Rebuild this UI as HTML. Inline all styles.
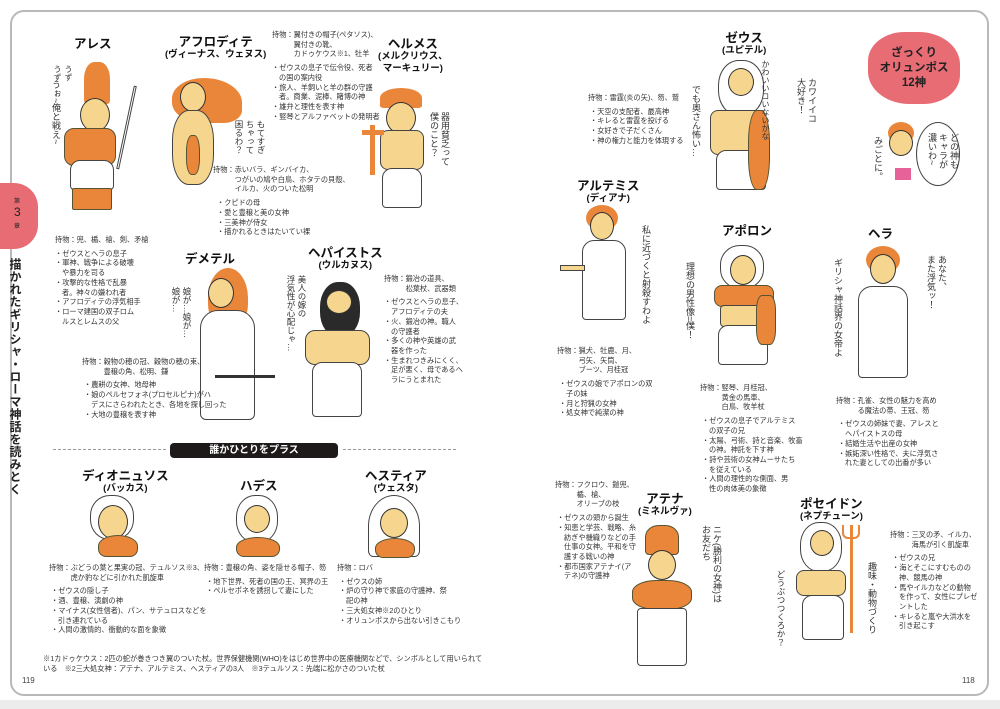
<!DOCTYPE html>
<html><head><meta charset="utf-8">
<style>
*{margin:0;padding:0;box-sizing:border-box}
body{width:1000px;height:709px;background:#ececec;position:relative;overflow:hidden;font-family:"Liberation Sans","Noto Sans CJK JP",sans-serif;color:#222}
#page{position:absolute;left:0;top:0;width:1000px;height:700px;background:#fff}
#frame{position:absolute;left:10px;top:10px;width:979px;height:686px;border:2px solid #b9b9b9;border-radius:14px}
.a{position:absolute}
.t{position:absolute;font-size:7.2px;line-height:9.7px;white-space:nowrap;color:#333}
.t p{padding-left:7px;text-indent:-7px}
.h{position:absolute;font-weight:bold;font-size:12.5px;line-height:13px;text-align:center;white-space:nowrap;color:#111}
.h small{display:block;font-size:9.5px;line-height:12px}
.v{position:absolute;writing-mode:vertical-rl;font-size:9px;line-height:11px;color:#333;white-space:nowrap}
.head{position:absolute;background:#f6d58f;border:1.3px solid #333;border-radius:50%}
.hair{position:absolute;background:#e9863a;border-radius:50%}
.wig{position:absolute;background:#fff;border:1.3px solid #444;border-radius:45%}
.robe{position:absolute;background:#fff;border:1.3px solid #444;border-radius:10px 10px 4px 4px}
.or{position:absolute;background:#e9863a;border:1px solid #553;}
.skin{position:absolute;background:#f6d58f;border:1.2px solid #444}
</style></head><body>
<div id="page"></div>
<div id="frame"></div>

<!-- left tab -->
<div class="a" style="left:0;top:183px;width:38px;height:66px;background:#e86c74;border-radius:0 24px 24px 0"></div>
<div class="a" style="left:14px;top:196px;font-size:6px;color:#222">第</div>
<div class="a" style="left:14px;top:205px;font-size:12px;color:#222">3</div>
<div class="a" style="left:14px;top:221px;font-size:6px;color:#222">章</div>
<div class="v" style="left:8px;top:258px;font-size:12px;line-height:14px;font-weight:bold;letter-spacing:0.5px;color:#222">描かれたギリシャ・ローマ神話を読みとく</div>

<!-- pink cloud -->
<div class="a" style="left:868px;top:32px;width:92px;height:72px;background:#e86c74;border-radius:40% 45% 40% 45%"></div>
<div class="a" style="left:868px;top:46px;width:92px;text-align:center;font-weight:bold;font-size:11.5px;line-height:15px;color:#222">ざっくり<br>オリュンポス<br>12神</div>
<!-- girl -->
<div class="hair" style="left:888px;top:122px;width:26px;height:22px"></div>
<div class="head" style="left:889px;top:130px;width:24px;height:26px"></div>
<div class="a" style="left:895px;top:168px;width:16px;height:12px;background:#e8629a"></div>
<div class="a" style="left:916px;top:122px;width:44px;height:64px;border:1.2px solid #444;border-radius:50%"></div>
<div class="v" style="left:926px;top:133px">どの神も<br>キャラが<br>濃いわ~</div>
<div class="v" style="left:872px;top:136px">みごとに。</div>

<!-- ARES -->
<div class="h" style="left:74px;top:38px">アレス</div>
<div class="hair" style="left:84px;top:62px;width:26px;height:42px;border-radius:40% 40% 10% 10%"></div>
<div class="head" style="left:80px;top:98px;width:30px;height:34px"></div>
<div class="or" style="left:64px;top:128px;width:52px;height:38px;border-radius:10px"></div>
<div class="robe" style="left:70px;top:160px;width:44px;height:30px"></div>
<div class="or" style="left:72px;top:188px;width:40px;height:22px;border-radius:2px"></div>
<div class="a" style="left:125px;top:85px;width:3px;height:85px;background:#fff;border:1px solid #444;transform:rotate(12deg)"></div>
<div class="v" style="left:50px;top:80px">うぉ~俺と戦え~</div>
<div class="v" style="left:52px;top:65px;font-size:8px">うず<br>うず</div>
<div class="t" style="left:55px;top:235px">持物：兜、楯、槍、剣、矛槍
<div style="margin-top:4px"><p>・ゼウスとヘラの息子</p><p>・軍神、戦争による破壊<br>や暴力を司る</p><p>・攻撃的な性格で乱暴<br>者。神々の嫌われ者</p><p>・アフロディテの浮気相手</p><p>・ローマ建国の双子ロム<br>ルスとレムスの父</p></div></div>

<!-- APHRODITE -->
<div class="h" style="left:165px;top:36px">アフロディテ<small>(ヴィーナス、ウェヌス)</small></div>
<div class="hair" style="left:172px;top:78px;width:70px;height:45px;border-radius:50% 60% 30% 50%"></div>
<div class="head" style="left:180px;top:82px;width:26px;height:30px"></div>
<div class="skin" style="left:172px;top:110px;width:42px;height:75px;border-radius:40%"></div>
<div class="or" style="left:186px;top:135px;width:14px;height:40px;border-radius:40%"></div>
<div class="v" style="left:233px;top:120px;font-size:8.5px">もてすぎ<br>ちゃって<br>困るわ？</div>
<div class="t" style="left:213px;top:165px">持物：赤いバラ、ギンバイカ、<br>　　　つがいの鳩や白鳥、ホタテの貝殻、<br>　　　イルカ、火のついた松明
<div style="margin-top:4px;margin-left:4px"><p>・クピドの母</p><p>・愛と豊穣と美の女神</p><p>・三美神が侍女</p><p>・描かれるときはたいてい裸</p></div></div>

<!-- HERMES -->
<div class="t" style="left:272px;top:30px">持物：翼付きの帽子(ペタソス)、<br>　　　翼付きの靴、<br>　　　カドゥケウス※1、牡羊
<div style="margin-top:4px"><p>・ゼウスの息子で伝令役、死者<br>の国の案内役</p><p>・旅人、羊飼いと羊の群の守護<br>者。商業、泥棒、賭博の神</p><p>・雄弁と理性を表す神</p><p>・竪琴とアルファベットの発明者</p></div></div>
<div class="h" style="left:378px;top:38px">ヘルメス<small>(メルクリウス、<br>マーキュリー)</small></div>
<div class="hair" style="left:380px;top:88px;width:42px;height:20px;border-radius:50% 50% 10% 10%"></div>
<div class="head" style="left:386px;top:102px;width:30px;height:32px"></div>
<div class="skin" style="left:380px;top:130px;width:44px;height:40px;border-radius:8px"></div>
<div class="robe" style="left:382px;top:168px;width:40px;height:40px"></div>
<div class="a" style="left:370px;top:125px;width:5px;height:50px;background:#e9863a"></div>
<div class="a" style="left:362px;top:130px;width:22px;height:5px;background:#e9863a"></div>
<div class="v" style="left:428px;top:112px">器用貧乏って<br>僕のこと？</div>

<!-- DEMETER -->
<div class="h" style="left:185px;top:253px">デメテル</div>
<div class="hair" style="left:208px;top:268px;width:40px;height:60px;border-radius:50% 50% 40% 40%"></div>
<div class="head" style="left:208px;top:278px;width:26px;height:30px"></div>
<div class="robe" style="left:200px;top:310px;width:55px;height:110px;border-radius:18px 18px 6px 6px"></div>
<div class="a" style="left:215px;top:375px;width:60px;height:3px;background:#333"></div>
<div class="v" style="left:170px;top:287px;font-size:8.5px">娘が…娘が…<br>娘が…</div>
<div class="t" style="left:82px;top:357px">持物：穀物の穂の冠、穀物の穂の束、<br>　　　豊穣の角、松明、鎌
<div style="margin-top:4px;margin-left:2px"><p>・農耕の女神、地母神</p><p>・娘のペルセフォネ(プロセルピナ)がハ<br>デスにさらわれたとき、各地を探し回った</p><p>・大地の豊穣を表す神</p></div></div>

<!-- HEPHAESTUS -->
<div class="h" style="left:308px;top:247px">ヘパイストス<small>(ウルカヌス)</small></div>
<div class="a" style="left:320px;top:282px;width:40px;height:55px;background:#2a2a2a;border-radius:45%"></div>
<div class="head" style="left:326px;top:290px;width:26px;height:24px"></div>
<div class="skin" style="left:305px;top:330px;width:65px;height:35px;border-radius:10px"></div>
<div class="robe" style="left:312px;top:362px;width:50px;height:55px"></div>
<div class="v" style="left:285px;top:275px;font-size:8.5px">美人の嫁の<br>浮気性が心配じゃ…</div>
<div class="t" style="left:384px;top:274px">持物：鍛冶の道具、<br>　　　松葉杖、武器類
<div style="margin-top:4px"><p>・ゼウスとヘラの息子、<br>アフロディテの夫</p><p>・火、鍛冶の神。職人<br>の守護者</p><p>・多くの神や英雄の武<br>器を作った</p><p>・生まれつきみにくく、<br>足が悪く、母であるヘ<br>ラにうとまれた</p></div></div>

<!-- Banner -->
<div class="a" style="left:53px;top:449px;width:113px;border-top:1.5px dashed #999"></div>
<div class="a" style="left:343px;top:449px;width:113px;border-top:1.5px dashed #999"></div>
<div class="a" style="left:170px;top:443px;width:168px;height:15px;background:#1e1a1a;border-radius:4px;color:#fff;font-weight:bold;font-size:10px;line-height:15px;text-align:center">誰かひとりをプラス</div>

<!-- DIONYSUS -->
<div class="h" style="left:82px;top:470px">ディオニュソス<small>(バッカス)</small></div>
<div class="wig" style="left:90px;top:495px;width:44px;height:45px"></div>
<div class="head" style="left:98px;top:505px;width:30px;height:34px"></div>
<div class="or" style="left:98px;top:535px;width:40px;height:22px;border-radius:50% 50% 8px 8px"></div>
<div class="t" style="left:49px;top:563px">持物：ぶどうの葉と果実の冠、テュルソス※3、<br>　　　虎か豹などに引かれた凱旋車
<div style="margin-top:4px;margin-left:2px"><p>・ゼウスの隠し子</p><p>・酒、豊穣、演劇の神</p><p>・マイナス(女性信者)、パン、サテュロスなどを<br>引き連れている</p><p>・人間の激情的、衝動的な面を象徴</p></div></div>

<!-- HADES -->
<div class="h" style="left:240px;top:480px">ハデス</div>
<div class="wig" style="left:236px;top:495px;width:42px;height:48px"></div>
<div class="head" style="left:244px;top:505px;width:26px;height:28px"></div>
<div class="or" style="left:236px;top:537px;width:44px;height:20px;border-radius:50% 50% 8px 8px"></div>
<div class="t" style="left:204px;top:563px">持物：豊穣の角、姿を隠せる帽子、笏
<div style="margin-top:4px;margin-left:2px"><p>・地下世界、死者の国の王、冥界の王</p><p>・ペルセポネを誘拐して妻にした</p></div></div>

<!-- HESTIA -->
<div class="h" style="left:365px;top:470px">ヘスティア<small>(ウェスタ)</small></div>
<div class="a" style="left:368px;top:495px;width:52px;height:62px;border:1.2px solid #444;border-radius:50% 50% 10% 10%"></div>
<div class="head" style="left:380px;top:508px;width:28px;height:30px"></div>
<div class="or" style="left:375px;top:538px;width:40px;height:20px;border-radius:50% 50% 8px 8px"></div>
<div class="t" style="left:337px;top:563px">持物：ロバ
<div style="margin-top:4px;margin-left:2px"><p>・ゼウスの姉</p><p>・炉の守り神で家庭の守護神、祭<br>祀の神</p><p>・三大処女神※2のひとり</p><p>・オリュンポスから出ない引きこもり</p></div></div>

<!-- footnote -->
<div class="t" style="left:43px;top:654px;line-height:10px">※1カドゥケウス：2匹の蛇が巻きつき翼のついた杖。世界保健機関(WHO)をはじめ世界中の医療機関などで、シンボルとして用いられて<br>いる　※2三大処女神：アテナ、アルテミス、ヘスティアの3人　※3テュルソス：先端に松かさのついた杖</div>
<div class="a" style="left:22px;top:676px;font-size:8px;color:#444">119</div>
<div class="a" style="left:962px;top:676px;font-size:8px;color:#444">118</div>

<!-- ZEUS -->
<div class="h" style="left:722px;top:32px">ゼウス<small>(ユピテル)</small></div>
<div class="wig" style="left:718px;top:60px;width:46px;height:56px"></div>
<div class="head" style="left:728px;top:68px;width:26px;height:28px"></div>
<div class="skin" style="left:710px;top:110px;width:56px;height:45px;border-radius:8px"></div>
<div class="robe" style="left:716px;top:150px;width:50px;height:40px"></div>
<div class="or" style="left:748px;top:110px;width:22px;height:80px;border-radius:40%"></div>
<div class="v" style="left:690px;top:85px">でも奥さん怖い…</div>
<div class="v" style="left:760px;top:60px;font-size:8px">かわいいコいないかな</div>
<div class="v" style="left:795px;top:78px">カワイイコ<br>大好き！</div>
<div class="t" style="left:588px;top:93px">持物：雷霆(炎の矢)、笏、鷲
<div style="margin-top:4px;margin-left:2px"><p>・天空の支配者、最高神</p><p>・キレると雷霆を投げる</p><p>・女好きで子だくさん</p><p>・神の権力と能力を体現する</p></div></div>

<!-- ARTEMIS -->
<div class="h" style="left:577px;top:180px">アルテミス<small>(ディアナ)</small></div>
<div class="hair" style="left:586px;top:205px;width:32px;height:26px"></div>
<div class="head" style="left:590px;top:212px;width:24px;height:28px"></div>
<div class="robe" style="left:582px;top:240px;width:44px;height:80px;border-radius:12px 12px 4px 4px"></div>
<div class="a" style="left:560px;top:265px;width:25px;height:6px;background:#f6d58f;border:1px solid #444"></div>
<div class="v" style="left:640px;top:225px">私に近づくと射殺すわよ</div>
<div class="t" style="left:557px;top:346px">持物：猟犬、牡鹿、月、<br>　　　弓矢、矢筒、<br>　　　ブーツ、月桂冠
<div style="margin-top:4px;margin-left:2px"><p>・ゼウスの娘でアポロンの双<br>子の妹</p><p>・月と狩猟の女神</p><p>・処女神で純潔の神</p></div></div>

<!-- APOLLO -->
<div class="h" style="left:722px;top:225px">アポロン</div>
<div class="wig" style="left:720px;top:245px;width:44px;height:44px"></div>
<div class="head" style="left:730px;top:255px;width:26px;height:30px"></div>
<div class="or" style="left:714px;top:285px;width:60px;height:22px;border-radius:8px"></div>
<div class="skin" style="left:720px;top:305px;width:46px;height:22px;border-radius:4px"></div>
<div class="robe" style="left:718px;top:325px;width:50px;height:40px"></div>
<div class="or" style="left:756px;top:295px;width:20px;height:50px;border-radius:30%"></div>
<div class="v" style="left:684px;top:262px">理想の男性像=僕！</div>
<div class="t" style="left:700px;top:383px">持物：竪琴、月桂冠、<br>　　　黄金の馬車、<br>　　　白鳥、牧羊杖
<div style="margin-top:4px;margin-left:2px"><p>・ゼウスの息子でアルテミス<br>の双子の兄</p><p>・太陽、弓術、詩と音楽、牧畜<br>の神。神託を下す神</p><p>・詩や芸術の女神ムーサたち<br>を従えている</p><p>・人間の理性的な側面、男<br>性の肉体美の象徴</p></div></div>

<!-- HERA -->
<div class="h" style="left:868px;top:228px">ヘラ</div>
<div class="hair" style="left:866px;top:246px;width:34px;height:28px"></div>
<div class="head" style="left:870px;top:254px;width:26px;height:30px"></div>
<div class="robe" style="left:858px;top:286px;width:50px;height:92px;border-radius:14px 14px 4px 4px"></div>
<div class="v" style="left:832px;top:258px">ギリシャ神話界の女帝よ</div>
<div class="v" style="left:925px;top:255px">あなた、<br>また浮気ッ！</div>
<div class="t" style="left:836px;top:396px">持物：孔雀、女性の魅力を高め<br>　　　る魔法の帯、王冠、笏
<div style="margin-top:4px;margin-left:2px"><p>・ゼウスの姉妹で妻、アレスと<br>ヘパイストスの母</p><p>・結婚生活や出産の女神</p><p>・嫉妬深い性格で、夫に浮気さ<br>れた妻としての出番が多い</p></div></div>

<!-- ATHENA -->
<div class="t" style="left:555px;top:480px">持物：フクロウ、鎧兜、<br>　　　楯、槍、<br>　　　オリーブの枝
<div style="margin-top:4px;margin-left:2px"><p>・ゼウスの頭から誕生</p><p>・知恵と学芸、戦略、糸<br>紡ぎや機織りなどの手<br>仕事の女神。平和を守<br>護する戦いの神</p><p>・都市国家アテナイ(ア<br>テネ)の守護神</p></div></div>
<div class="h" style="left:638px;top:493px">アテナ<small>(ミネルヴァ)</small></div>
<div class="or" style="left:645px;top:525px;width:34px;height:30px;border-radius:40% 40% 4px 4px"></div>
<div class="head" style="left:648px;top:550px;width:28px;height:30px"></div>
<div class="or" style="left:632px;top:580px;width:60px;height:30px;border-radius:40%"></div>
<div class="robe" style="left:637px;top:608px;width:50px;height:58px;border-radius:4px"></div>
<div class="v" style="left:700px;top:525px">ニケ(勝利の女神)は<br>お友だち</div>

<!-- POSEIDON -->
<div class="h" style="left:800px;top:498px">ポセイドン<small>(ネプチューン)</small></div>
<div class="wig" style="left:800px;top:522px;width:42px;height:50px"></div>
<div class="head" style="left:810px;top:530px;width:24px;height:26px"></div>
<div class="skin" style="left:796px;top:570px;width:50px;height:26px;border-radius:8px"></div>
<div class="robe" style="left:802px;top:595px;width:42px;height:45px"></div>
<div class="a" style="left:850px;top:525px;width:3px;height:108px;background:#e9863a"></div>
<div class="a" style="left:842px;top:525px;width:18px;height:14px;border:2.5px solid #e9863a;border-top:none;border-radius:0 0 6px 6px"></div>
<div class="v" style="left:866px;top:562px">趣味・動物づくり</div>
<div class="v" style="left:775px;top:570px;font-size:8.5px">どうぶつつくろか？</div>
<div class="t" style="left:890px;top:530px">持物：三叉の矛、イルカ、<br>　　　海馬が引く凱旋車
<div style="margin-top:4px;margin-left:2px"><p>・ゼウスの兄</p><p>・海とそこにすむものの<br>神、競馬の神</p><p>・馬やイルカなどの動物<br>を作って、女性にプレゼ<br>ントした</p><p>・キレると嵐や大洪水を<br>引き起こす</p></div></div>
</body></html>
